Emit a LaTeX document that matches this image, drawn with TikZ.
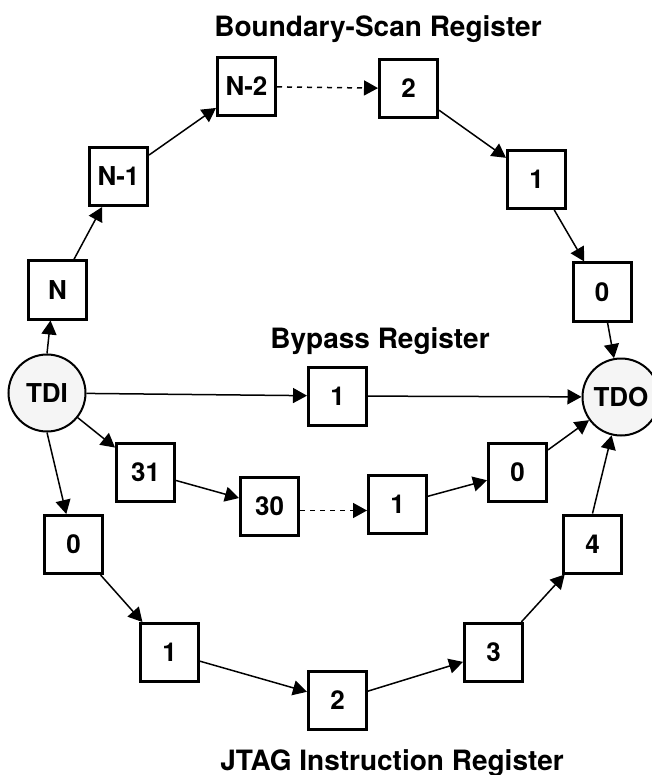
\documentclass[tikz,border=0pt]{standalone}
\usepackage{fontspec}
\setmainfont{TeX Gyre Heros}
\usetikzlibrary{arrows.meta}
\begin{document}
\begin{tikzpicture}[x=1pt,y=-1pt,
  reg/.style={draw, line width=3pt, minimum size=58pt, inner sep=0pt,
    font=\fontsize{26}{28}\selectfont\bfseries},
  pin/.style={circle, draw, line width=2pt, fill=black!4, minimum size=77pt,
    inner sep=0pt, font=\fontsize{26}{28}\selectfont\bfseries},
  link/.style={line width=1.5pt, -{Triangle[length=14pt,width=15pt]}},
  dlink/.style={link, dash pattern=on 5pt off 5pt},
  title/.style={anchor=base, inner sep=0pt, font=\fontsize{28}{30}\selectfont\bfseries}]
\useasboundingbox (0,0) rectangle (651,775);
\fill[white] (0,0) rectangle (651,775);
% titles
\node[title] (tbs) at (378,37) {Boundary-Scan Register};
\node[title] (tbp) at (380,348) {Bypass Register};
\node[title] (tir) at (392,770) {JTAG Instruction Register};
% pins
\node[pin] (TDI) at (47,393) {TDI};
\node[pin] (TDO) at (621,397) {TDO};
% boundary scan
\node[reg] (N)  at (57.5,290) {N};
\node[reg] (N1) at (118.5,176.5) {N-1};
\node[reg] (N2) at (246.5,86.5) {N-2};
\node[reg] (B2) at (408.5,88.5) {2};
\node[reg] (B1) at (536.5,179.5) {1};
\node[reg] (B0) at (602,292) {0};
% bypass
\node[reg] (BP) at (337.5,396) {1};
% 32-bit register
\node[reg] (D31) at (145.5,472) {31};
\node[reg] (D30) at (269.5,506.5) {30};
\node[reg] (D1)  at (397.5,504.5) {1};
\node[reg] (D0)  at (517.5,472) {0};
% instruction register
\node[reg] (J0) at (73.5,544.5) {0};
\node[reg] (J1) at (169.5,652.5) {1};
\node[reg] (J2) at (337.5,700.5) {2};
\node[reg] (J3) at (493.5,652.5) {3};
\node[reg] (J4) at (592.5,544) {4};
% connectors
\draw[link] (TDI.north) -- ([xshift=-7pt]N.south);
\draw[link] (N) -- (N1);
\draw[link] (N1) -- (N2);
\draw[dlink] (N2) -- (B2);
\draw[link] (B2) -- (B1);
\draw[link] (B1) -- (B0);
\draw[link] (B0) -- (TDO);
\draw[link] (TDI) -- (BP);
\draw[link] (BP) -- (TDO);
\draw[link] (TDI) -- (D31);
\draw[link] (D31) -- (D30);
\draw[dlink] ([yshift=-4pt]D30.east) -- ([yshift=-6pt]D1.west);
\draw[link] (D1) -- (D0);
\draw[link] (D0) -- (TDO);
\draw[link] (TDI.south) -- (J0);
\draw[link] (J0) -- (J1);
\draw[link] (J1) -- (J2);
\draw[link] (J2) -- (J3);
\draw[link] (J3) -- (J4);
\draw[link] (J4.north) -- (TDO);
\end{tikzpicture}
\end{document}
